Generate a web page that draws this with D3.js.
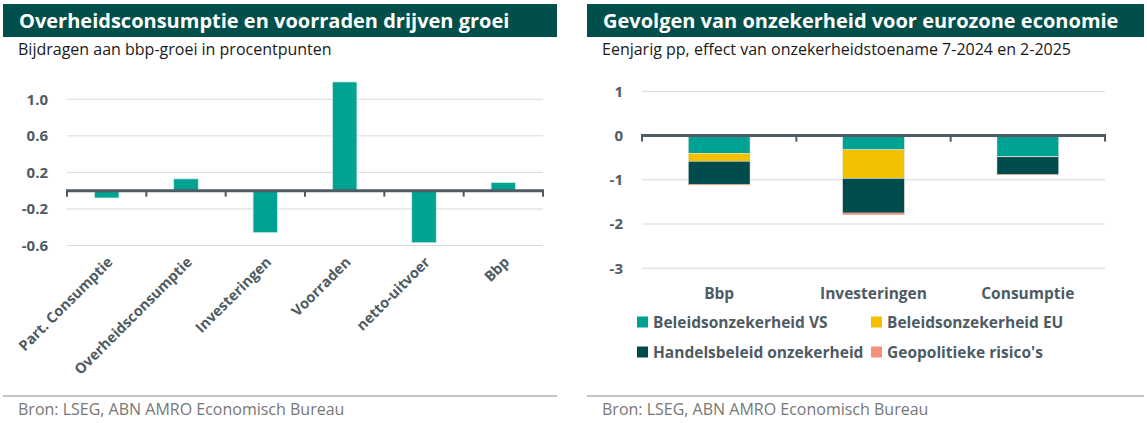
<!DOCTYPE html>
<html>
<head>
<meta charset="utf-8">
<script src="https://cdn.jsdelivr.net/npm/d3@7"></script>
<style>
  body { margin: 0; background: #fff; }
  svg { display: block; font-family: "Open Sans", Lato, sans-serif; }
  .title { fill: #fff; font-weight: 700; font-size: 20px; }
  .subtitle { fill: #1a1a1a; font-size: 16px; }
  .source { fill: #777; font-size: 16px; }
  .axis-label { fill: #4e5b63; font-weight: 700; font-size: 14px; }
  .grid line { stroke: #d9d9d9; stroke-width: 1; }
</style>
</head>
<body>
<script>
// left chart data
var left_categories = ["Part. Consumptie", "Overheidsconsumptie", "Investeringen",
                       "Voorraden", "netto-uitvoer", "Bbp"];
var left_values = [-0.08, 0.13, -0.46, 1.19, -0.57, 0.09];
var left_ticks = [1.0, 0.6, 0.2, -0.2, -0.6];

// right chart data
var right_categories = ["Bbp", "Investeringen", "Consumptie"];
var series_names = ["Beleidsonzekerheid VS", "Beleidsonzekerheid EU",
                    "Handelsbeleid onzekerheid", "Geopolitieke risico's"];
var vs_values = [-0.40, -0.32, -0.47];
var eu_values = [-0.18, -0.65, -0.01];
var handel_values = [-0.52, -0.78, -0.40];
var geo_values = [-0.02, -0.04, -0.01];
var right_ticks = [1, 0, -1, -2, -3];

var teal = "#00a393", dark = "#004c4c", yellow = "#f3c000", salmon = "#f3917c";
var series_colors = [teal, yellow, dark, salmon];
var axis_color = "#4e5b63";

var svg = d3.select("body").append("svg")
    .attr("width", 1147)
    .attr("height", 423);

// header, subtitle, footer for one panel
function make_frame(x0, x1, title, subtitle) {
    svg.append("rect")
        .attr("x", x0).attr("y", 4)
        .attr("width", x1 - x0).attr("height", 33)
        .attr("fill", "#004f4b");
    svg.append("text")
        .attr("class", "title")
        .attr("x", x0 + 16).attr("y", 28)
        .text(title);
    svg.append("text")
        .attr("class", "subtitle")
        .attr("x", x0 + 15).attr("y", 55)
        .text(subtitle);
    svg.append("line")
        .attr("x1", x0).attr("x2", x1)
        .attr("y1", 396).attr("y2", 396)
        .style("stroke", "#c6c6c6")
        .style("stroke-width", 2);
    svg.append("text")
        .attr("class", "source")
        .attr("x", x0 + 15).attr("y", 415)
        .text("Bron: LSEG, ABN AMRO Economisch Bureau");
}

// gridlines + y labels
function make_y(g, scale_y, ticks, x_left, x_right, label_x, fmt) {
    var grid = g.append("g").attr("class", "grid");
    grid.selectAll("line")
        .data(ticks.filter(function(d){ return d !== 0; }))
        .enter().append("line")
        .attr("x1", x_left).attr("x2", x_right)
        .attr("y1", function(d){ return scale_y(d); })
        .attr("y2", function(d){ return scale_y(d); });
    g.selectAll(".ylab")
        .data(ticks)
        .enter().append("text")
        .attr("class", "axis-label")
        .attr("x", label_x)
        .attr("y", function(d){ return scale_y(d); })
        .attr("dy", "0.36em")
        .attr("text-anchor", "end")
        .style("font-size", "15px")
        .text(function(d){ return fmt(d).replace("\u2212", "-"); });
}

// zero axis with ticks at band edges
function make_zero_axis(g, scale_x, scale_y) {
    var y0 = scale_y(0);
    var edges = scale_x.domain().map(function(d, i){ return scale_x.range()[0] + i * scale_x.step(); });
    edges.push(scale_x.range()[1]);
    g.selectAll(".xtick")
        .data(edges)
        .enter().append("line")
        .attr("x1", function(d){ return d; })
        .attr("x2", function(d){ return d; })
        .attr("y1", y0).attr("y2", y0 + 6)
        .style("stroke", axis_color)
        .style("stroke-width", 2);
    g.append("line")
        .attr("x1", scale_x.range()[0] - 1).attr("x2", scale_x.range()[1] + 1)
        .attr("y1", y0).attr("y2", y0)
        .style("stroke", axis_color)
        .style("stroke-width", 3);
}

// ---------- left chart ----------
make_frame(3, 557, "Overheidsconsumptie en voorraden drijven groei",
           "Bijdragen aan bbp-groei in procentpunten");

var left = svg.append("g");
var lx = d3.scaleBand()
    .domain(left_categories)
    .range([67, 543])
    .paddingInner(0.69)
    .paddingOuter(0.345);
var ly = d3.scaleLinear()
    .domain([-0.6, 1.0])
    .range([245.5, 99.3]);

make_y(left, ly, left_ticks, 67, 543, 48, d3.format(".1f"));

left.selectAll(".bar")
    .data(left_values)
    .enter().append("rect")
    .attr("x", function(d, i){ return lx(left_categories[i]); })
    .attr("width", lx.bandwidth())
    .attr("y", function(d){ return Math.min(ly(d), ly(0)); })
    .attr("height", function(d){ return Math.abs(ly(d) - ly(0)); })
    .attr("fill", teal)
    .style("stroke", "#d8ece9")
    .style("stroke-width", 0.8);

make_zero_axis(left, lx, ly);

left.selectAll(".xlab")
    .data(left_categories)
    .enter().append("text")
    .attr("class", "axis-label")
    .style("font-size", "14.5px")
    .attr("text-anchor", "end")
    .attr("transform", function(d){
        var cx = lx(d) + lx.bandwidth() / 2 + 7;
        return "translate(" + cx + ", 263) rotate(-45)";
    })
    .text(function(d){ return d; });

// ---------- right chart ----------
make_frame(587, 1144, "Gevolgen van onzekerheid voor eurozone economie",
           "Eenjarig pp, effect van onzekerheidstoename 7-2024 en 2-2025");

var right = svg.append("g");
var rx = d3.scaleBand()
    .domain(right_categories)
    .range([642, 1105])
    .paddingInner(0.6)
    .paddingOuter(0.3);
var ry = d3.scaleLinear()
    .domain([-3, 1])
    .range([268.2, 91.4]);

make_y(right, ry, right_ticks, 642, 1105, 623, d3.format("d"));

var table = right_categories.map(function(c, i){
    return { cat: c, vs: vs_values[i], eu: eu_values[i],
             handel: handel_values[i], geo: geo_values[i] };
});
var keys = ["vs", "eu", "handel", "geo"];
var stacked = d3.stack()
    .keys(keys)
    .offset(d3.stackOffsetDiverging)(table);

right.selectAll(".layer")
    .data(stacked)
    .enter().append("g")
    .attr("fill", function(d, i){ return series_colors[i]; })
    .style("stroke", function(d, i){ return i === 3 ? "none" : "#e3e3e3"; })
    .style("stroke-width", 0.5)
    .selectAll("rect")
    .data(function(d){ return d; })
    .enter().append("rect")
    .attr("x", function(d){ return rx(d.data.cat); })
    .attr("width", rx.bandwidth())
    .attr("y", function(d){ return ry(Math.max(d[0], d[1])); })
    .attr("height", function(d){ return Math.abs(ry(d[0]) - ry(d[1])); });

make_zero_axis(right, rx, ry);

right.selectAll(".xlab")
    .data(right_categories)
    .enter().append("text")
    .attr("class", "axis-label")
    .style("font-size", "15.5px")
    .attr("text-anchor", "middle")
    .attr("x", function(d){ return rx(d) + rx.bandwidth() / 2; })
    .attr("y", 299)
    .text(function(d){ return d; });

// legend
var legend_pos = [[637, 322], [871, 322], [637, 352], [871, 352]];
var legend = right.selectAll(".legend")
    .data(series_names)
    .enter().append("g")
    .attr("transform", function(d, i){
        return "translate(" + legend_pos[i][0] + "," + legend_pos[i][1] + ")";
    });
legend.append("rect")
    .attr("x", 0).attr("y", -5.5)
    .attr("width", 11).attr("height", 11)
    .attr("fill", function(d, i){ return series_colors[i]; });
legend.append("text")
    .attr("class", "axis-label")
    .style("font-size", "15.5px")
    .attr("x", 16)
    .attr("dy", "0.36em")
    .text(function(d){ return d; });
</script>
</body>
</html>
